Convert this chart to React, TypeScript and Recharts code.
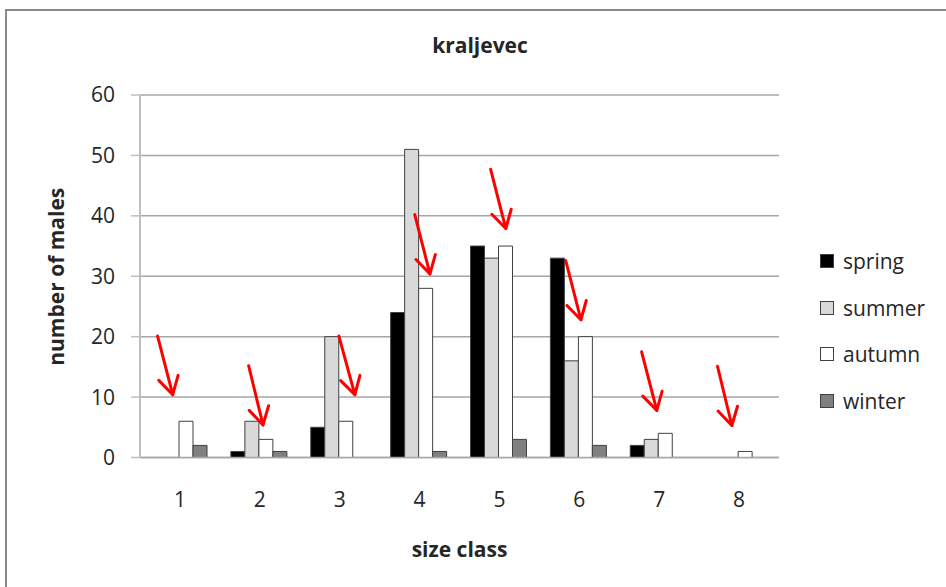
import { BarChart, Bar, XAxis, YAxis, CartesianGrid, Legend, ReferenceLine } from 'recharts';

const sizeClasses = ['1', '2', '3', '4', '5', '6', '7', '8'];
const spring = [0, 1, 5, 24, 35, 33, 2, 0];
const summer = [0, 6, 20, 51, 33, 16, 3, 0];
const autumn = [6, 3, 6, 28, 35, 20, 4, 1];
const winter = [2, 1, 0, 1, 3, 2, 0, 0];
const yTicks = [0, 10, 20, 30, 40, 50, 60];

// red annotation arrows: [tail size class, tail count, head size class, head count]
const arrows = [
  [0.72, 20.1, 0.91, 10.4],
  [1.86, 15.2, 2.04, 5.4],
  [2.99, 20.1, 3.19, 10.4],
  [3.94, 40.2, 4.13, 30.4],
  [4.89, 47.7, 5.08, 37.9],
  [5.83, 32.6, 6.02, 22.8],
  [6.78, 17.5, 6.97, 7.8],
  [7.73, 15.1, 7.91, 5.3],
];

const seasons = [
  { key: 'spring', fill: '#000000' },
  { key: 'summer', fill: '#d9d9d9' },
  { key: 'autumn', fill: '#ffffff' },
  { key: 'winter', fill: '#808080' },
];

const data = sizeClasses.map((c, i) => ({
  sizeClass: c,
  sizeNum: Number(c),
  spring: spring[i],
  summer: summer[i],
  autumn: autumn[i],
  winter: winter[i],
}));

const FONT = '"Open Sans", sans-serif';
const TEXT = '#262626';

const Arrow = (props: any) => {
  const { x1, y1, x2, y2 } = props;
  const ang = Math.atan2(y2 - y1, x2 - x1);
  const len = 20;
  const spread = Math.PI / 6;
  const a = [x2 - len * Math.cos(ang - spread), y2 - len * Math.sin(ang - spread)];
  const b = [x2 - len * Math.cos(ang + spread), y2 - len * Math.sin(ang + spread)];
  return (
    <g stroke="#ff0000" strokeWidth={3} fill="none" strokeLinecap="round" strokeLinejoin="round">
      <line x1={x1} y1={y1} x2={x2} y2={y2} />
      <polyline points={`${a[0]},${a[1]} ${x2},${y2} ${b[0]},${b[1]}`} />
    </g>
  );
};

const renderLegend = () => (
  <div style={{ fontFamily: FONT, fontSize: 21, color: TEXT }}>
    {seasons.map((s) => (
      <div key={s.key} style={{ height: 46.7, display: 'flex', alignItems: 'center' }}>
        <span
          style={{
            width: 12,
            height: 12,
            background: s.fill,
            border: '1px solid #404040',
            marginRight: 9,
            display: 'inline-block',
          }}
        />
        <span>{s.key}</span>
      </div>
    ))}
  </div>
);

export default function App() {
  return (
    <div style={{ position: 'fixed', inset: 0, overflow: 'hidden', background: '#fff' }}>
      <div
        style={{
          position: 'absolute',
          left: 5,
          top: 9,
          width: 1000,
          height: 700,
          border: '2px solid #8a8a8a',
        }}
      />
      <div
        style={{
          position: 'absolute',
          left: 380,
          top: 35,
          width: 200,
          textAlign: 'center',
          fontFamily: FONT,
          fontWeight: 700,
          fontSize: 21,
          lineHeight: '20px',
          color: TEXT,
        }}
      >
        kraljevec
      </div>
      <div style={{ position: 'absolute', left: 0, top: 0 }}>
        <BarChart
          width={946}
          height={587}
          data={data}
          margin={{ top: 95, right: 167, bottom: 69.5, left: 80 }}
          barCategoryGap={11}
          barGap={0}
        >
          <CartesianGrid vertical={false} stroke="#a6a6a6" strokeWidth={1.5} />
          <XAxis
            dataKey="sizeClass"
            height={60}
            axisLine={{ stroke: '#a6a6a6', strokeWidth: 1.5 }}
            tickLine={false}
            tickSize={0}
            tickMargin={35}
            tick={{ fontFamily: FONT, fontSize: 21, fill: TEXT }}
            label={{
              content: ({ viewBox }: any) => (
                <text
                  x={viewBox.x + viewBox.width / 2}
                  y={viewBox.y + 91}
                  textAnchor="middle"
                  dominantBaseline="central"
                  fontFamily={FONT}
                  fontWeight={700}
                  fontSize={21}
                  fill={TEXT}
                >
                  size class
                </text>
              ),
            }}
          />
          <XAxis
            xAxisId="arr"
            dataKey="sizeNum"
            type="number"
            domain={[0.5, 8.5]}
            hide
            allowDataOverflow
          />
          <YAxis
            width={60}
            domain={[0, 60]}
            ticks={yTicks}
            interval={0}
            axisLine={{ stroke: '#bfbfbf', strokeWidth: 2 }}
            tickLine={{ stroke: '#bfbfbf', strokeWidth: 1.5 }}
            tickSize={9}
            tickMargin={16}
            tick={{ fontFamily: FONT, fontSize: 21, fill: TEXT }}
            label={{
              content: ({ viewBox }: any) => {
                const cx = viewBox.x - 24;
                const cy = viewBox.y + viewBox.height / 2 + 0.5;
                return (
                  <text
                    x={cx}
                    y={cy}
                    transform={`rotate(-90 ${cx} ${cy})`}
                    textAnchor="middle"
                    dominantBaseline="central"
                    fontFamily={FONT}
                    fontWeight={700}
                    fontSize={21}
                    fill={TEXT}
                  >
                    number of males
                  </text>
                );
              },
            }}
          />
          {seasons.map((s) => (
            <Bar
              key={s.key}
              dataKey={s.key}
              fill={s.fill}
              stroke="#404040"
              strokeWidth={1}
              isAnimationActive={false}
            />
          ))}
          {arrows.map((a, i) => (
            <ReferenceLine
              key={i}
              xAxisId="arr"
              segment={[
                { x: a[0], y: a[1] },
                { x: a[2], y: a[3] },
              ]}
              ifOverflow="visible"
              shape={Arrow}
            />
          ))}
          <Legend
            layout="vertical"
            align="center"
            verticalAlign="middle"
            wrapperStyle={{ left: 820, top: 237.7, width: 125 }}
            content={renderLegend}
          />
        </BarChart>
      </div>
    </div>
  );
}
